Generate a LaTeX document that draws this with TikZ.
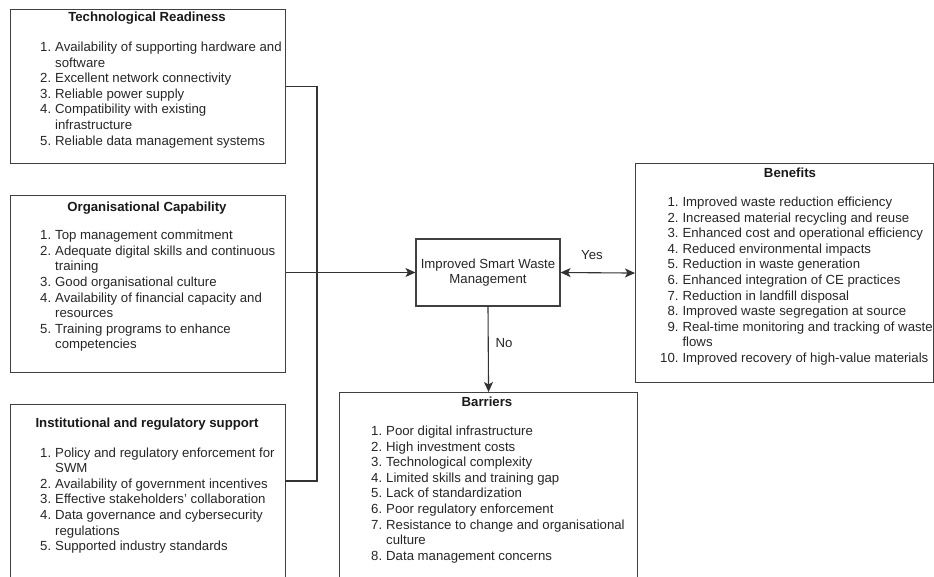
\documentclass[tikz,border=0pt]{standalone}
\usepackage{fontspec}
\setmainfont{Liberation Sans}
\usetikzlibrary{arrows.meta, positioning}

\newcommand{\listfont}{\fontsize{13.2}{15.6}\selectfont}

\begin{document}
\begin{tikzpicture}[
  x=1pt, y=-1pt,
  >={Stealth[length=10pt,width=9pt,inset=2.5pt]},
  panel/.style={draw=black!75, line width=1.1pt, anchor=north west, inner sep=0pt},
  heading/.style={anchor=base, inner sep=0pt, font=\bfseries\fontsize{13.2}{15}\selectfont, text=black!90},
  items/.style={anchor=north west, inner sep=0pt, font=\listfont, text=black!85},
  hubbox/.style={draw=black!75, line width=1.1pt, align=center, font=\listfont, text=black!85, minimum width=144pt, minimum height=67pt},
  tag/.style={font=\listfont, text=black!85, inner sep=1pt},
  arrow/.style={->, draw=black!80, line width=1.1pt},
  dblarrow/.style={<->, draw=black!80, line width=1.1pt},
  line/.style={draw=black!80, line width=1.1pt}
]
\useasboundingbox (0,0) rectangle (934,577);
\clip (0,0) rectangle (934,577);

\node[panel, minimum width=275pt, minimum height=154pt] (tech) at (10,9) {};
\node[panel, minimum width=275pt, minimum height=177pt] (org) at (10,195) {};
\node[panel, minimum width=275pt, minimum height=190pt] (inst) at (10,404) {};
\node[panel, minimum width=298pt, minimum height=219pt] (benefit) at (635,163) {};
\node[panel, minimum width=298pt, minimum height=200pt] (barrier) at (339,392) {};
\node[hubbox] (hub) at (488,272.5) {Improved Smart Waste\\Management};

\node[heading] (techtitle) at (147,21.6) {Technological Readiness};
\node[heading] (orgtitle) at (147,211.6) {Organisational Capability};
\node[heading] (insttitle) at (147,427.6) {Institutional and regulatory support};
\node[heading] (benefittitle) at (790,177.6) {Benefits};
\node[heading] (barriertitle) at (487,406.6) {Barriers};

\node[items] (techlist) at (40,40.3) {\begin{tabular}{@{}r@{\hspace{4pt}}l@{}}
1. & Availability of supporting hardware and\\
   & software\\
2. & Excellent network connectivity\\
3. & Reliable power supply\\
4. & Compatibility with existing\\
   & infrastructure\\
5. & Reliable data management systems
\end{tabular}};

\node[items] (orglist) at (40,228.6) {\begin{tabular}{@{}r@{\hspace{4pt}}l@{}}
1. & Top management commitment\\
2. & Adequate digital skills and continuous\\
   & training\\
3. & Good organisational culture\\
4. & Availability of financial capacity and\\
   & resources\\
5. & Training programs to enhance\\
   & competencies
\end{tabular}};

\node[items] (instlist) at (40,446) {\begin{tabular}{@{}r@{\hspace{4pt}}l@{}}
1. & Policy and regulatory enforcement for\\
   & SWM\\
2. & Availability of government incentives\\
3. & Effective stakeholders' collaboration\\
4. & Data governance and cybersecurity\\
   & regulations\\
5. & Supported industry standards
\end{tabular}};

\node[items] (benefitlist) at (660,195.3) {\begin{tabular}{@{}r@{\hspace{4pt}}l@{}}
1. & Improved waste reduction efficiency\\
2. & Increased material recycling and reuse\\
3. & Enhanced cost and operational efficiency\\
4. & Reduced environmental impacts\\
5. & Reduction in waste generation\\
6. & Enhanced integration of CE practices\\
7. & Reduction in landfill disposal\\
8. & Improved waste segregation at source\\
9. & Real-time monitoring and tracking of waste\\
   & flows\\
10. & Improved recovery of high-value materials
\end{tabular}};

\node[items] (barrierlist) at (371,424.3) {\begin{tabular}{@{}r@{\hspace{4pt}}l@{}}
1. & Poor digital infrastructure\\
2. & High investment costs\\
3. & Technological complexity\\
4. & Limited skills and training gap\\
5. & Lack of standardization\\
6. & Poor regulatory enforcement\\
7. & Resistance to change and organisational\\
   & culture\\
8. & Data management concerns
\end{tabular}};

\coordinate (bus) at (317,272.5);
\coordinate (instout) at (285,481);

\draw[line] (tech.east) -| (bus);
\draw[line] (instout) -| (bus);
\draw[arrow] (org.east |- hub.west) -- (hub.west);
\draw[dblarrow] (hub.east) -- (benefit.west);
\draw[arrow] (hub.south) -- (barrier.north);

\node[tag] (yes) at (592,255) {Yes};
\node[tag] (no) at (504,343) {No};
\end{tikzpicture}
\end{document}
